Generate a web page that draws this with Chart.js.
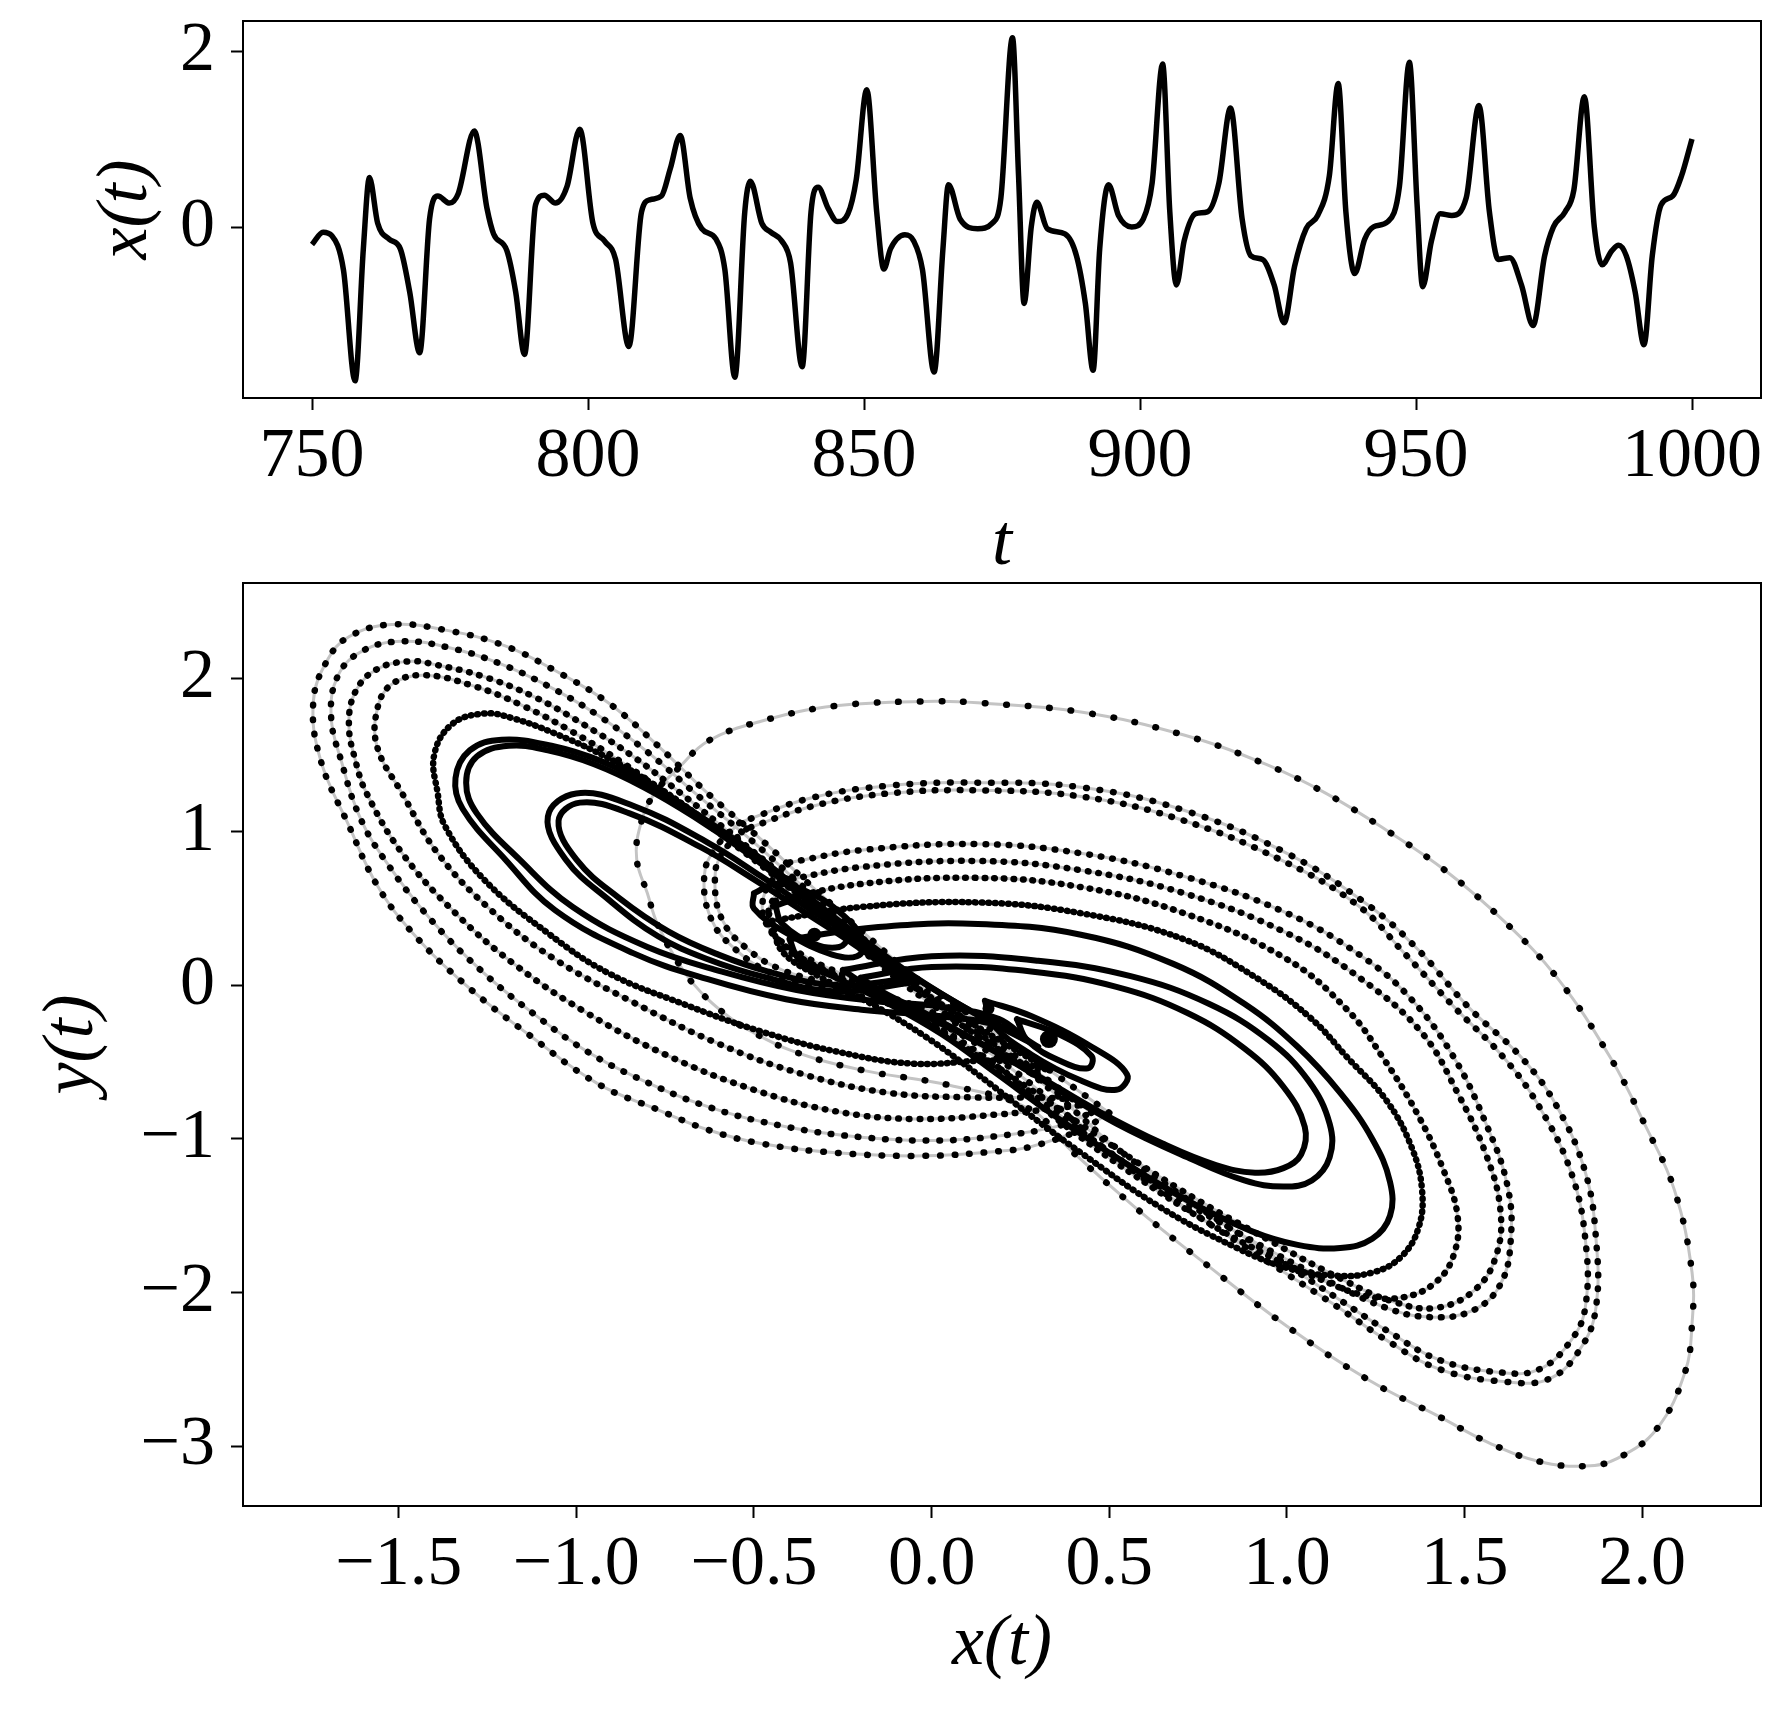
<!DOCTYPE html>
<html>
<head>
<meta charset="utf-8">
<script src="https://cdn.jsdelivr.net/npm/chart.js@4.4.1/dist/chart.umd.min.js"></script>
<style>
  html, body { margin: 0; padding: 0; background: #fff; }
  #topChart { position: absolute; left: 0; top: 0; }
  #phaseChart { position: absolute; left: 0; top: 560px; }
</style>
</head>
<body>
<canvas id="topChart" width="1792" height="600"></canvas>
<canvas id="phaseChart" width="1792" height="1164"></canvas>
<script>
// time series x(t)
const tValues = [750, 752, 753.6, 755.7, 757.8, 759.3, 760.4, 761.9, 764, 766, 767.7, 769.5, 771.3, 772.8, 774.9, 776.5, 779.4, 781.7, 782.9, 785.3, 786.9, 788.5,
  790.5, 792.1, 794.1, 796.2, 798.5, 800.9, 803, 805, 807.4, 809.7, 811.3, 813.3, 814.9, 816.7, 818.5, 820.6, 823.2, 824.8, 826.6, 828.4, 829.4,
  831.5, 833.1, 835.1, 836.7, 838.8, 840.4, 841.7, 843.5, 845.2, 847.1, 848.6, 850.5, 852.3, 853.6, 854.8, 857.4, 859, 860.6, 862.7, 864.3, 865.3,
  867.4, 870.6, 873.2, 874.8, 876.9, 878, 879, 880.3, 881.3, 883.2, 886.4, 888.5, 890.1, 891.5, 892.7, 894.3, 896.1, 898.5, 900.6, 902.2, 904.1,
  905.4, 906.6, 908, 910.1, 912.2, 914.3, 916.4, 918.5, 920.1, 922.2, 924.3, 926.1, 928, 930.1, 932.2, 934.3, 935.9, 937.3, 938.9, 940.7, 942.3,
  944.9, 947, 948.8, 950.2, 951.2, 952.8, 954.4, 956.5, 959.1, 961.4, 963.3, 964.9, 967, 969.1, 971.2, 973.3, 974.9, 977, 978.6, 980.5, 982.3,
  983.7, 985.5, 986.7, 988.1, 989.7, 991.3, 992.8, 994.4, 996.5, 998.1, 1000];
const xValues = [-0.19, -0.05, -0.09, -0.48, -1.74, -0.24, 0.57, 0.05, -0.13, -0.24, -0.73, -1.42, 0.10, 0.36, 0.28, 0.39, 1.10, 0.22, -0.07, -0.26, -0.73, -1.44,
  0.26, 0.37, 0.28, 0.47, 1.12, 0.05, -0.15, -0.36, -1.35, 0.18, 0.32, 0.36, 0.67, 1.05, 0.34, -0.01, -0.13, -0.48, -1.70, 0.18, 0.53,
  0.05, -0.05, -0.15, -0.40, -1.58, 0.18, 0.46, 0.22, 0.07, 0.16, 0.55, 1.57, 0.18, -0.47, -0.24, -0.08, -0.15, -0.48, -1.64, -0.24, 0.49,
  0.10, -0.01, 0.05, 0.34, 2.16, 0.59, -0.86, 0.01, 0.29, -0.01, -0.07, -0.32, -0.86, -1.62, -0.24, 0.49, 0.14, 0.01, 0.10, 0.51, 1.86,
  0.18, -0.65, -0.15, 0.16, 0.18, 0.51, 1.36, 0.10, -0.32, -0.36, -0.65, -1.08, -0.44, -0.01, 0.14, 0.59, 1.64, 0.18, -0.52, -0.13, 0.01,
  0.07, 0.47, 1.88, 0.26, -0.67, -0.15, 0.16, 0.14, 0.34, 1.39, 0.18, -0.36, -0.34, -0.65, -1.11, -0.32, 0.01, 0.18, 0.43, 1.49, 0.01,
  -0.42, -0.26, -0.20, -0.32, -0.73, -1.33, -0.32, 0.26, 0.36, 0.59, 1.01];

const topXTicks = [750, 800, 850, 900, 950, 1000];
const topYTicks = [0, 2];
const phaseXTicks = [-1.5, -1.0, -0.5, 0.0, 0.5, 1.0, 1.5, 2.0];
const phaseYTicks = [-3, -2, -1, 0, 1, 2];

// phase portrait: loops of the trajectory, [x, y]
// left lobe, outer dotted loops
const leftLoop1 = [[0.50,-0.83],[0.30,-0.50],[0.10,-0.18],[-0.05,0.06],[-0.19,0.34],[-0.34,0.65],[-0.48,0.95],[-0.63,1.25],[-0.77,1.56],[-0.91,1.84],[-1.06,2.05],[-1.20,2.21],[-1.36,2.31],[-1.52,2.35],[-1.64,2.27],[-1.70,2.12],[-1.74,1.85],[-1.72,1.47],[-1.64,1.04],[-1.56,0.65],[-1.46,0.34],[-1.31,0.00],[-1.14,-0.31],[-0.94,-0.64],[-0.77,-0.81],[-0.63,-0.94],[-0.48,-1.03],[-0.27,-1.09],[-0.02,-1.11],[0.19,-1.08],[0.28,-1.05],[0.42,-0.94],[0.50,-0.83]];
const leftLoop2 = [[0.45,-0.83],[0.26,-0.50],[0.07,-0.18],[-0.08,0.08],[-0.22,0.36],[-0.37,0.66],[-0.51,0.95],[-0.66,1.24],[-0.80,1.52],[-0.94,1.76],[-1.08,1.95],[-1.22,2.10],[-1.36,2.20],[-1.49,2.24],[-1.60,2.18],[-1.67,2.02],[-1.69,1.75],[-1.66,1.45],[-1.61,1.10],[-1.54,0.82],[-1.41,0.43],[-1.26,0.08],[-1.10,-0.22],[-0.97,-0.43],[-0.84,-0.59],[-0.63,-0.79],[-0.41,-0.92],[-0.19,-0.99],[0.02,-1.01],[0.19,-0.98],[0.35,-0.92],[0.45,-0.83]];
const leftLoop3 = [[0.42,-0.78],[0.23,-0.47],[0.04,-0.16],[-0.11,0.10],[-0.25,0.38],[-0.40,0.68],[-0.55,0.96],[-0.70,1.24],[-0.84,1.49],[-0.98,1.70],[-1.12,1.88],[-1.26,2.01],[-1.40,2.09],[-1.47,2.11],[-1.56,2.06],[-1.62,1.92],[-1.64,1.70],[-1.62,1.45],[-1.59,1.25],[-1.49,0.86],[-1.34,0.47],[-1.17,0.13],[-0.97,-0.18],[-0.75,-0.45],[-0.50,-0.68],[-0.27,-0.82],[-0.05,-0.87],[0.19,-0.84],[0.35,-0.80],[0.42,-0.78]];
const leftLoop4 = [[0.38,-0.74],[0.20,-0.44],[0.01,-0.14],[-0.14,0.12],[-0.28,0.40],[-0.43,0.69],[-0.58,0.96],[-0.73,1.22],[-0.87,1.45],[-1.01,1.65],[-1.15,1.82],[-1.29,1.95],[-1.43,2.02],[-1.52,1.96],[-1.56,1.80],[-1.56,1.55],[-1.49,1.25],[-1.39,0.86],[-1.24,0.49],[-1.06,0.17],[-0.84,-0.11],[-0.60,-0.38],[-0.36,-0.58],[-0.12,-0.70],[0.12,-0.73],[0.30,-0.73],[0.38,-0.74]];
// left lobe, inner (dense) loops
const leftLoop5 = [[0.33,-0.55],[0.15,-0.30],[-0.02,-0.05],[-0.19,0.24],[-0.34,0.52],[-0.48,0.80],[-0.63,1.06],[-0.77,1.29],[-0.91,1.48],[-1.06,1.64],[-1.18,1.74],[-1.26,1.77],[-1.35,1.70],[-1.40,1.50],[-1.39,1.25],[-1.37,1.04],[-1.26,0.69],[-1.08,0.34],[-0.91,0.08],[-0.70,-0.12],[-0.48,-0.30],[-0.27,-0.43],[-0.05,-0.51],[0.19,-0.49],[0.33,-0.55]];
const leftLoop6 = [[0.30,-0.40],[0.12,-0.18],[-0.05,0.06],[-0.21,0.33],[-0.36,0.60],[-0.50,0.86],[-0.65,1.10],[-0.79,1.30],[-0.93,1.46],[-1.07,1.56],[-1.21,1.60],[-1.30,1.53],[-1.34,1.35],[-1.32,1.15],[-1.20,0.82],[-1.06,0.49],[-0.84,0.21],[-0.63,0.04],[-0.41,-0.09],[-0.19,-0.16],[0.02,-0.20],[0.20,-0.27],[0.30,-0.40]];
const leftLoop7 = [[0.27,-0.36],[0.09,-0.14],[-0.08,0.10],[-0.24,0.37],[-0.39,0.63],[-0.53,0.88],[-0.67,1.10],[-0.81,1.29],[-0.95,1.44],[-1.08,1.53],[-1.19,1.56],[-1.28,1.49],[-1.31,1.32],[-1.28,1.12],[-1.16,0.82],[-1.01,0.51],[-0.80,0.25],[-0.59,0.09],[-0.38,-0.03],[-0.17,-0.10],[0.03,-0.14],[0.19,-0.22],[0.27,-0.36]];
const leftLoop8 = [[-0.05,0.02],[-0.20,0.28],[-0.34,0.49],[-0.48,0.71],[-0.63,0.93],[-0.84,1.17],[-1.00,1.25],[-1.08,1.10],[-1.03,0.82],[-0.91,0.56],[-0.77,0.32],[-0.63,0.17],[-0.48,0.06],[-0.27,-0.04],[-0.05,0.02]];
const leftLoop9 = [[-0.08,0.04],[-0.22,0.27],[-0.36,0.48],[-0.50,0.69],[-0.65,0.90],[-0.85,1.12],[-0.99,1.19],[-1.05,1.07],[-1.00,0.82],[-0.88,0.57],[-0.74,0.35],[-0.60,0.20],[-0.46,0.09],[-0.27,0.00],[-0.08,0.04]];
const leftSpiral1 = [[-0.50,0.60],[-0.44,0.66],[-0.36,0.62],[-0.26,0.48],[-0.19,0.28],[-0.21,0.19],[-0.28,0.20],[-0.40,0.33],[-0.50,0.50],[-0.50,0.60]];
const leftSpiral2 = [[-0.44,0.52],[-0.38,0.55],[-0.30,0.45],[-0.24,0.31],[-0.26,0.25],[-0.33,0.27],[-0.42,0.40],[-0.44,0.52]];

// right lobe, outer dotted loops
const rightLoop1 = [[-0.54,-0.26],[-0.40,-0.42],[-0.20,-0.55],[0.05,-0.65],[0.28,-0.81],[0.39,-1.07],[0.57,-1.44],[0.78,-1.83],[1.00,-2.22],[1.23,-2.57],[1.43,-2.81],[1.57,-2.98],[1.71,-3.10],[1.84,-3.13],[1.93,-3.08],[2.04,-2.89],[2.12,-2.52],[2.14,-2.20],[2.14,-1.87],[2.09,-1.33],[2.01,-0.92],[1.91,-0.47],[1.76,0.05],[1.61,0.42],[1.45,0.74],[1.28,1.01],[1.11,1.25],[0.94,1.44],[0.71,1.63],[0.42,1.78],[0.13,1.84],[0.01,1.85],[-0.27,1.82],[-0.48,1.72],[-0.63,1.59],[-0.71,1.42],[-0.78,1.25],[-0.82,1.04],[-0.83,0.82],[-0.80,0.60],[-0.77,0.39],[-0.70,0.10],[-0.63,-0.09],[-0.54,-0.26]];
const rightLoop2 = [[-0.54,1.06],[-0.61,0.89],[-0.64,0.71],[-0.62,0.43],[-0.55,0.23],[-0.45,0.08],[-0.30,-0.02],[-0.12,-0.12],[0.05,-0.28],[0.20,-0.50],[0.35,-0.78],[0.49,-1.07],[0.71,-1.44],[0.94,-1.79],[1.14,-2.09],[1.28,-2.31],[1.43,-2.50],[1.61,-2.58],[1.74,-2.56],[1.83,-2.35],[1.87,-2.09],[1.87,-1.66],[1.84,-1.22],[1.76,-0.79],[1.66,-0.47],[1.51,-0.14],[1.37,0.23],[1.23,0.52],[1.00,0.86],[0.71,1.14],[0.42,1.29],[0.13,1.32],[-0.12,1.30],[-0.34,1.22],[-0.54,1.06]];
const rightLoop3 = [[-0.52,1.02],[-0.59,0.86],[-0.61,0.69],[-0.59,0.43],[-0.52,0.24],[-0.42,0.10],[-0.28,0.01],[-0.10,-0.09],[0.07,-0.25],[0.22,-0.47],[0.37,-0.75],[0.51,-1.04],[0.73,-1.41],[0.96,-1.76],[1.15,-2.05],[1.29,-2.26],[1.43,-2.44],[1.60,-2.52],[1.71,-2.50],[1.80,-2.31],[1.84,-2.09],[1.84,-1.66],[1.80,-1.22],[1.71,-0.79],[1.61,-0.47],[1.47,-0.14],[1.33,0.21],[1.20,0.52],[0.98,0.82],[0.70,1.08],[0.42,1.23],[0.13,1.27],[-0.12,1.25],[-0.33,1.17],[-0.52,1.02]];
const rightLoop4 = [[-0.40,0.80],[-0.20,0.88],[0.13,0.92],[0.42,0.86],[0.71,0.71],[1.00,0.47],[1.21,0.19],[1.35,-0.09],[1.47,-0.47],[1.56,-0.90],[1.62,-1.30],[1.63,-1.65],[1.60,-1.95],[1.52,-2.12],[1.40,-2.16],[1.28,-2.10],[1.12,-1.93],[0.90,-1.66],[0.65,-1.32],[0.45,-1.00],[0.28,-0.70],[0.12,-0.42],[-0.05,-0.18],[-0.20,0.02],[-0.35,0.18],[-0.46,0.38],[-0.47,0.60],[-0.40,0.80]];
const rightLoop5 = [[-0.42,0.68],[-0.20,0.77],[0.13,0.81],[0.42,0.75],[0.71,0.60],[1.00,0.34],[1.21,0.04],[1.38,-0.31],[1.48,-0.70],[1.56,-1.10],[1.60,-1.45],[1.59,-1.75],[1.53,-1.98],[1.42,-2.10],[1.30,-2.06],[1.16,-1.92],[0.95,-1.66],[0.70,-1.33],[0.48,-1.00],[0.28,-0.68],[0.10,-0.40],[-0.08,-0.15],[-0.24,0.04],[-0.38,0.20],[-0.46,0.42],[-0.42,0.68]];
const rightLoop6 = [[-0.44,0.55],[-0.20,0.66],[0.13,0.70],[0.42,0.64],[0.71,0.47],[1.00,0.17],[1.17,-0.16],[1.27,-0.47],[1.37,-0.85],[1.44,-1.20],[1.48,-1.50],[1.47,-1.75],[1.42,-1.93],[1.33,-2.03],[1.22,-2.02],[1.08,-1.90],[0.93,-1.74],[0.76,-1.52],[0.56,-1.22],[0.38,-0.92],[0.22,-0.62],[0.06,-0.35],[-0.11,-0.12],[-0.27,0.06],[-0.40,0.22],[-0.46,0.40],[-0.44,0.55]];
// right lobe, inner (dense) loops
const rightLoop7 = [[-0.45,0.42],[-0.20,0.51],[0.13,0.54],[0.42,0.47],[0.71,0.30],[0.92,0.04],[1.07,-0.22],[1.17,-0.47],[1.28,-0.75],[1.35,-1.05],[1.38,-1.33],[1.37,-1.58],[1.32,-1.77],[1.24,-1.87],[1.13,-1.89],[1.00,-1.84],[0.85,-1.70],[0.64,-1.44],[0.42,-1.09],[0.28,-0.85],[0.13,-0.58],[-0.02,-0.33],[-0.17,-0.12],[-0.31,0.05],[-0.42,0.22],[-0.45,0.42]];
const rightLoop8 = [[-0.40,0.30],[-0.15,0.38],[0.13,0.40],[0.42,0.33],[0.68,0.14],[0.88,-0.12],[1.03,-0.40],[1.15,-0.70],[1.24,-1.00],[1.29,-1.28],[1.29,-1.50],[1.24,-1.65],[1.15,-1.71],[1.03,-1.69],[0.90,-1.60],[0.72,-1.40],[0.52,-1.12],[0.34,-0.84],[0.18,-0.57],[0.03,-0.32],[-0.12,-0.12],[-0.27,0.05],[-0.37,0.16],[-0.40,0.30]];
const rightLoop9 = [[-0.25,0.10],[0.00,0.19],[0.30,0.16],[0.56,0.06],[0.78,-0.12],[0.95,-0.36],[1.06,-0.62],[1.12,-0.90],[1.12,-1.12],[1.07,-1.27],[0.99,-1.31],[0.88,-1.27],[0.72,-1.12],[0.52,-0.90],[0.33,-0.64],[0.17,-0.42],[0.00,-0.22],[-0.15,-0.05],[-0.25,0.10]];
const rightLoop10 = [[-0.20,0.05],[0.00,0.12],[0.28,0.09],[0.52,-0.01],[0.72,-0.18],[0.88,-0.41],[0.99,-0.66],[1.05,-0.92],[1.04,-1.10],[0.99,-1.19],[0.91,-1.22],[0.80,-1.17],[0.65,-1.03],[0.47,-0.82],[0.30,-0.59],[0.14,-0.38],[-0.02,-0.18],[-0.14,-0.04],[-0.20,0.05]];
const rightSpiral1 = [[0.15,-0.10],[0.28,-0.20],[0.45,-0.40],[0.55,-0.58],[0.52,-0.68],[0.42,-0.62],[0.28,-0.45],[0.17,-0.25],[0.15,-0.10]];
const rightSpiral2 = [[0.24,-0.22],[0.36,-0.32],[0.45,-0.46],[0.44,-0.54],[0.36,-0.49],[0.27,-0.36],[0.24,-0.22]];
const focusPoints = [[-0.33,0.33],[0.33,-0.35],[0.16,-0.15]];

// how each loop is drawn: gap between dots (0 = solid)
const loopStyles = [
  { pts: rightLoop1, gap: 21 },
  { pts: leftLoop1, gap: 14 },
  { pts: leftLoop2, gap: 13 },
  { pts: rightLoop2, gap: 13 },
  { pts: rightLoop3, gap: 12 },
  { pts: leftLoop3, gap: 10 },
  { pts: leftLoop4, gap: 10 },
  { pts: rightLoop4, gap: 11 },
  { pts: rightLoop5, gap: 10 },
  { pts: rightLoop6, gap: 9 },
  { pts: leftLoop5, gap: 6 },
  { pts: rightLoop7, gap: 6 },
  { pts: leftLoop6, gap: 0 },
  { pts: leftLoop7, gap: 0 },
  { pts: leftLoop8, gap: 0 },
  { pts: leftLoop9, gap: 0 },
  { pts: rightLoop8, gap: 0 },
  { pts: rightLoop9, gap: 0 },
  { pts: rightLoop10, gap: 0 },
  { pts: leftSpiral1, gap: 0 },
  { pts: leftSpiral2, gap: 0 },
  { pts: rightSpiral1, gap: 0 },
  { pts: rightSpiral2, gap: 0 },
];

const FONT = "'Liberation Serif', 'DejaVu Serif', serif";
Chart.defaults.font.family = FONT;
Chart.defaults.color = '#000';

function minusSign(s) { return String(s).replace('-', '\u2212'); }
function toXY(pts) { return pts.map(p => ({ x: p[0], y: p[1] })); }

// draws the closed box around the plot area
const framePlugin = {
  id: 'frame',
  afterDraw(chart) {
    const a = chart.chartArea, c = chart.ctx;
    c.save();
    c.strokeStyle = '#000';
    c.lineWidth = 2;
    c.strokeRect(a.left, a.top, a.right - a.left, a.bottom - a.top);
    c.restore();
  }
};

function axisGrid() {
  return { drawOnChartArea: false, drawTicks: true, tickLength: 12, tickWidth: 2, tickColor: '#000' };
}
// fixed axis boxes so the plot areas land where the reference has them
function fixHeight(h) {
  return s => { s.height = h; s.paddingLeft = 0; s.paddingRight = 0; };
}
function fixWidth(w) {
  return s => { s.width = w; s.paddingTop = 0; s.paddingBottom = 0; };
}

// ---------- upper panel ----------
const topConfig = {
  type: 'line',
  data: {
    datasets: [{
      data: tValues.map((t, i) => ({ x: t, y: xValues[i] })),
      borderColor: '#000',
      borderWidth: 5.5,
      pointRadius: 0,
      cubicInterpolationMode: 'monotone',
      fill: false,
    }]
  },
  options: {
    responsive: false,
    animation: false,
    devicePixelRatio: 1,
    layout: { padding: { top: 21, right: 31, left: 0, bottom: 0 } },
    plugins: { legend: { display: false }, tooltip: { enabled: false } },
    scales: {
      x: {
        type: 'linear', min: 737.5, max: 1012.5,
        afterFit: fixHeight(202),
        afterBuildTicks: s => { s.ticks = topXTicks.map(v => ({ value: v })); },
        grid: axisGrid(),
        border: { display: true, color: '#000', width: 2 },
        ticks: { font: { size: 70 }, padding: 6, maxRotation: 0, callback: v => minusSign(v) },
        title: { display: true, text: 't', font: { size: 72, style: 'italic' }, padding: { bottom: 12 } },
      },
      y: {
        type: 'linear', min: -1.935, max: 2.35,
        afterFit: fixWidth(243),
        afterBuildTicks: s => { s.ticks = topYTicks.map(v => ({ value: v })); },
        grid: axisGrid(),
        border: { display: true, color: '#000', width: 2 },
        ticks: { font: { size: 70 }, padding: 16, callback: v => minusSign(v) },
        title: { display: true, text: 'x(t)', font: { size: 72, style: 'italic' }, padding: { top: 84 } },
      }
    }
  },
  plugins: [framePlugin]
};

// ---------- lower panel: phase portrait ----------
// Chart.js paints lower "order" on top: dots order 1, grey guide lines order 2
const phaseSets = [];
loopStyles.forEach(l => {
  if (l.gap > 0) {
    phaseSets.push({ data: toXY(l.pts), borderColor: '#c4c4c4', borderWidth: 3, pointRadius: 0, tension: 0.4, fill: false, order: 2 });
  }
  phaseSets.push({
    data: toXY(l.pts),
    borderColor: '#000',
    borderWidth: l.gap > 0 ? 6.5 : 6,
    borderDash: l.gap > 0 ? [0.6, l.gap] : [],
    borderCapStyle: 'round',
    borderJoinStyle: 'round',
    pointRadius: 0,
    tension: 0.4,
    fill: false,
    order: 1,
  });
});
phaseSets.push({ data: toXY(focusPoints), showLine: false, pointRadius: [7, 9, 6], pointBackgroundColor: '#000', pointBorderWidth: 0, order: 0 });

const phaseConfig = {
  type: 'line',
  data: { datasets: phaseSets },
  options: {
    responsive: false,
    animation: false,
    devicePixelRatio: 1,
    layout: { padding: { top: 23, right: 31, left: 0, bottom: 0 } },
    plugins: { legend: { display: false }, tooltip: { enabled: false } },
    scales: {
      x: {
        type: 'linear', min: -1.938, max: 2.334,
        afterFit: fixHeight(218),
        afterBuildTicks: s => { s.ticks = phaseXTicks.map(v => ({ value: v })); },
        grid: axisGrid(),
        border: { display: true, color: '#000', width: 2 },
        ticks: { font: { size: 70 }, padding: 6, maxRotation: 0, callback: v => minusSign(Number(v).toFixed(1)) },
        title: { display: true, text: 'x(t)', font: { size: 72, style: 'italic' }, padding: { bottom: 36 } },
      },
      y: {
        type: 'linear', min: -3.39, max: 2.62,
        afterFit: fixWidth(243),
        afterBuildTicks: s => { s.ticks = phaseYTicks.map(v => ({ value: v })); },
        grid: axisGrid(),
        border: { display: true, color: '#000', width: 2 },
        ticks: { font: { size: 70 }, padding: 16, callback: v => minusSign(v) },
        title: { display: true, text: 'y(t)', font: { size: 72, style: 'italic' }, padding: { top: 30 } },
      }
    }
  },
  plugins: [framePlugin]
};

var topChart = new Chart(document.getElementById('topChart').getContext('2d'), topConfig);
var phaseChart = new Chart(document.getElementById('phaseChart').getContext('2d'), phaseConfig);
</script>
</body>
</html>
